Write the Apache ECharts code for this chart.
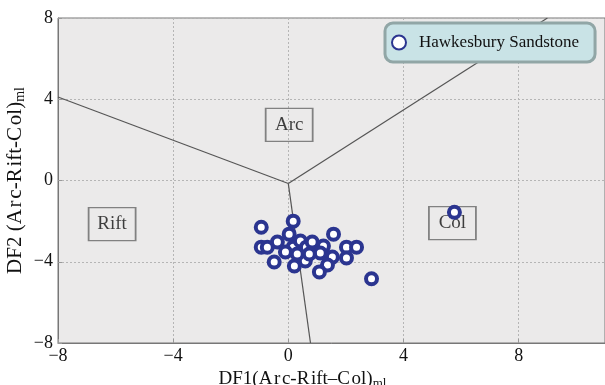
<!DOCTYPE html>
<html><head><meta charset="utf-8">
<script src="https://cdn.jsdelivr.net/npm/echarts@6/dist/echarts.min.js"></script>
<style>html,body{margin:0;padding:0;background:#fff}#c{width:605px;height:385px}</style>
</head><body><div id="c"></div>
<script>
const seriesName = 'Hawkesbury Sandstone';
const sampleDF1 = [-0.94,0.17,0.03,1.57,-0.38,-0.94,-0.73,0.17,0.42,0.63,0.83,1.22,2.02,2.37,-0.10,1.11,1.53,2.02,-0.49,0.21,0.59,1.36,1.08,2.89,5.77,0.31,0.73];
const sampleDF2 = [-2.30,-2.00,-2.64,-2.64,-3.03,-3.28,-3.28,-3.28,-2.98,-3.28,-3.03,-3.23,-3.28,-3.28,-3.52,-3.57,-3.77,-3.81,-4.01,-4.21,-3.96,-4.16,-4.50,-4.84,-1.56,-3.62,-3.62];
const boundaryA = [[-8,4.11],[0,-0.15]];
const boundaryB = [[0,-0.15],[9.0,8]];
const boundaryC = [[0,-0.15],[0.77,-8]];
const fieldNames = ['Arc','Rift','Col'];
const fieldX = [0.03,-6.12,5.70];
const fieldY = [2.74,-2.15,-2.10];
const xTicks = [-8,-4,0,4,8];
const yTicks = [-8,-4,0,4,8];

const FONT = 'Liberation Serif';
const hs = '\u200A';
const lineStyle = {color:'#555', width:1.2};
const chart = echarts.init(document.getElementById('c'), null, {renderer:'canvas'});
chart.setOption({
  backgroundColor:'#fff',
  animation:false,
  textStyle:{fontFamily:FONT},
  grid:{left:58, right:0, top:18, bottom:42, show:true, backgroundColor:'#ebeaea', borderColor:'#777', borderWidth:1, outerBoundsMode:'none', containLabel:false},
  legend:{
    data:[seriesName], left:385, top:23,
    backgroundColor:'#c9e3e6', borderColor:'#91a6a6', borderWidth:3, borderRadius:8,
    padding:[11,16,11,6], itemWidth:14, itemHeight:14, itemGap:10,
    textStyle:{fontFamily:FONT, fontSize:17, color:'#111', padding:[0,0,0,8]}
  },
  xAxis:{
    type:'value', min:-8, max:11, interval:4,
    name:'{a|DF1(A'+hs+'r'+hs+'c-R'+hs+'ift–C'+hs+'ol)}{b|ml}', nameLocation:'middle', nameGap:25, nameMoveOverlap:false,
    nameTextStyle:{padding:[0,58,0,0], rich:{a:{fontFamily:FONT,fontSize:19,color:'#111'},b:{fontFamily:FONT,fontSize:13,color:'#111',verticalAlign:'bottom',padding:[9,0,0,0]}}},
    axisLine:{show:true, onZero:false, lineStyle:{color:'#777'}},
    axisTick:{show:true, inside:true, length:4, lineStyle:{color:'#999'}},
    axisLabel:{fontFamily:FONT, fontSize:18, color:'#111', margin:4, showMaxLabel:false,
      formatter:v=>xTicks.includes(v)?String(v).replace('-','−'):''},
    splitLine:{show:true, lineStyle:{color:'#b5b5b5', type:[2,2], width:1}}
  },
  yAxis:{
    type:'value', min:-8, max:8, interval:4,
    name:'{a|DF2 (A'+hs+'r'+hs+'c-R'+hs+'ift-C'+hs+'ol)}{b|ml}', nameLocation:'middle', nameGap:31, nameMoveOverlap:false,
    nameTextStyle:{rich:{a:{fontFamily:FONT,fontSize:21,color:'#111'},b:{fontFamily:FONT,fontSize:14,color:'#111',verticalAlign:'bottom',padding:[9,0,0,0]}}},
    axisLine:{show:true, onZero:false, lineStyle:{color:'#777'}},
    axisTick:{show:true, inside:true, length:4, lineStyle:{color:'#999'}},
    axisLabel:{fontFamily:FONT, fontSize:18, color:'#111', margin:5,
      formatter:v=>yTicks.includes(v)?String(v).replace('-','−'):''},
    splitLine:{show:true, lineStyle:{color:'#b5b5b5', type:[2,2], width:1}}
  },
  series:[
    {type:'line', data:boundaryA, symbol:'none', lineStyle, silent:true, z:1},
    {type:'line', data:boundaryB, symbol:'none', lineStyle, silent:true, z:1},
    {type:'line', data:boundaryC, symbol:'none', lineStyle, silent:true, z:1},
    {type:'scatter', data:fieldNames.map((n,i)=>({value:[fieldX[i],fieldY[i]], name:n})),
      symbol:'rect', symbolSize:[47,33], z:2,
      itemStyle:{color:'rgba(0,0,0,0)', borderColor:'#666', borderWidth:1.5},
      label:{show:true, position:'inside', formatter:p=>p.name, fontFamily:FONT, fontSize:19, color:'#111'}},
    {name:seriesName, type:'scatter', data:sampleDF1.map((x,i)=>[x,sampleDF2[i]]),
      symbol:'circle', symbolSize:11, z:5,
      itemStyle:{color:'#fff', borderColor:'#2b3590', borderWidth:4, opacity:1}}
  ]
});
</script></body></html>
